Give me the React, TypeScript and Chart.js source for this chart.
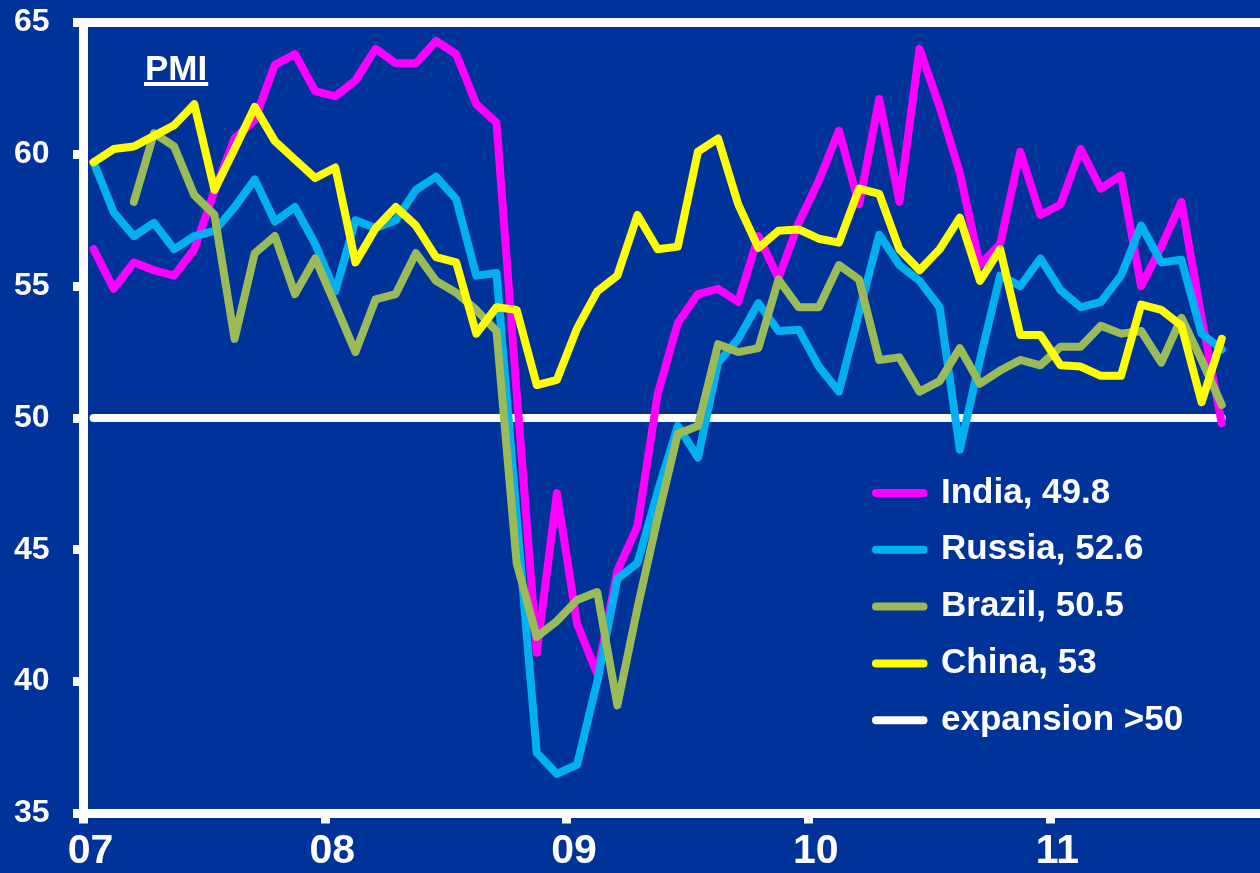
import React, { useEffect, useRef } from 'react';
import { Chart, registerables } from 'chart.js';

Chart.register(...registerables);

const FONT = '"Liberation Sans", Arial, Helvetica, sans-serif';
const BG = '#003399';

// Categories: monthly, Jan 2007 – Sep 2011
const monthNames = ['Jan', 'Feb', 'Mar', 'Apr', 'May', 'Jun', 'Jul', 'Aug', 'Sep', 'Oct', 'Nov', 'Dec'];
const yearLabels = ['07', '08', '09', '10', '11'];
const months: string[] = yearLabels.flatMap((y) => monthNames.map((m) => `${m} ${y}`)).slice(0, 57);

// Series values (PMI)
const india = [
  56.4, 54.9, 55.9, 55.6, 55.4, 56.4, 58.6, 60.6, 61.3, 63.4, 63.8, 62.4,
  62.2, 62.8, 64.0, 63.45, 63.45, 64.3, 63.8, 61.9, 61.2, 51.0, 41.1, 47.15,
  42.2, 40.3, 44.2, 45.9, 50.9, 53.6, 54.7, 54.9, 54.4, 56.9, 55.3, 57.4,
  59.0, 60.9, 58.1, 62.1, 58.2, 64.0, 61.8, 59.3, 55.8, 56.6, 60.1, 57.7,
  58.1, 60.2, 58.7, 59.2, 55.0, 56.5, 58.2, 53.8, 49.8,
];
const russia = [
  59.7, 57.8, 56.9, 57.4, 56.4, 56.9, 57.1, 58.0, 59.05, 57.45, 58.0, 56.6,
  54.8, 57.5, 57.2, 57.5, 58.65, 59.15, 58.3, 55.4, 55.5, 46.3, 37.3, 36.5,
  36.85, 40.0, 43.9, 44.5, 47.2, 49.7, 48.5, 52.1, 53.0, 54.35, 53.3, 53.35,
  51.95, 51.0, 54.0, 56.95, 55.8, 55.2, 54.2, 48.8, 52.2, 55.4, 55.0, 56.05,
  54.85, 54.2, 54.4, 55.4, 57.3, 55.9, 56.0, 53.2, 52.6,
];
const brazil = [
  null, null, 58.2, 60.8, 60.3, 58.45, 57.7, 53.0, 56.25, 56.9, 54.7, 56.05,
  54.3, 52.5, 54.5, 54.7, 56.25, 55.2, 54.75, 54.1, 53.3, 44.5, 41.7, 42.3,
  43.1, 43.4, 39.1, 42.8, 46.2, 49.4, 49.7, 52.8, 52.5, 52.65, 55.25, 54.2,
  54.2, 55.8, 55.25, 52.2, 52.3, 51.0, 51.4, 52.65, 51.3, 51.8, 52.2, 52.0,
  52.7, 52.7, 53.5, 53.2, 53.3, 52.1, 53.8, 52.2, 50.5,
];
const china = [
  59.7, 60.2, 60.3, 60.7, 61.1, 61.9, 58.65, 60.2, 61.8, 60.5, 59.8, 59.1,
  59.5, 55.9, 57.2, 58.0, 57.3, 56.1, 55.9, 53.2, 54.2, 54.1, 51.25, 51.45,
  53.4, 54.8, 55.4, 57.7, 56.4, 56.5, 60.1, 60.6, 58.1, 56.45, 57.1, 57.15,
  56.8, 56.65, 58.7, 58.5, 56.4, 55.6, 56.4, 57.6, 55.2, 56.4, 53.15, 53.15,
  52.0, 51.95, 51.6, 51.6, 54.3, 54.1, 53.5, 50.6, 53.0,
];
const expansionLevel = 50;

const seriesLabels = ['India, 49.8', 'Russia, 52.6', 'Brazil, 50.5', 'China, 53', 'expansion >50'];
const seriesColors = ['#FF00FF', '#00B0F0', '#9BBB59', '#FFFF00', '#FFFFFF'];
const drawOrder = [4, 3, 2, 1, 5];

const yTickMin = 35;
const yTickMax = 65;
const yTickStep = 5;

// year boundaries on the monthly index axis
const yearTickValues = yearLabels.map((_, k) => k * 12 - 0.5);
const X_MIN = -0.5;
const X_MAX = 57.9;

const toPoints = (vals: (number | null)[]) => vals.map((v, i) => ({ x: i, y: v }));

const overlayPlugin = {
  id: 'overlayPlugin',
  beforeDraw(chart: any) {
    const lg = chart.legend;
    if (lg) {
      lg.left = 854.2;
      lg.top = 453.7;
      lg.right = 1260;
      lg.bottom = 873;
      lg.width = lg.right - lg.left;
      lg.height = lg.bottom - lg.top;
    }
  },
  afterDraw(chart: any) {
    const ctx = chart.ctx as CanvasRenderingContext2D;
    ctx.save();
    ctx.font = `bold 35px ${FONT}`;
    ctx.fillStyle = '#FFFFFF';
    ctx.textBaseline = 'alphabetic';
    ctx.textAlign = 'left';
    ctx.fillText('PMI', 145, 80);
    const w = ctx.measureText('PMI').width;
    ctx.fillRect(144, 82, w + 2, 4);
    ctx.restore();
  },
};

export default function App() {
  const canvasRef = useRef<HTMLCanvasElement | null>(null);

  useEffect(() => {
    const canvas = canvasRef.current;
    if (!canvas) return;
    const seriesValues = [india, russia, brazil, china, months.map(() => expansionLevel)];
    const datasets = seriesValues.map((vals, idx) => ({
      label: seriesLabels[idx],
      data: toPoints(vals),
      borderColor: seriesColors[idx],
      backgroundColor: seriesColors[idx],
      borderWidth: 8,
      borderCapStyle: 'round' as const,
      borderJoinStyle: 'round' as const,
      pointRadius: 0,
      pointHoverRadius: 0,
      tension: 0,
      fill: false,
      spanGaps: false,
      order: drawOrder[idx],
    }));

    const chart = new Chart(canvas, {
      type: 'line',
      data: { datasets },
      options: {
        responsive: false,
        animation: false,
        devicePixelRatio: 1,
        layout: { padding: { top: 22.5, left: 0, right: 0, bottom: 0 } },
        scales: {
          x: {
            type: 'linear',
            min: X_MIN,
            max: X_MAX,
            bounds: 'data',
            afterBuildTicks: (s: any) => {
              s.ticks = yearTickValues.map((v) => ({ value: v }));
            },
            afterFit: (s: any) => {
              s.height = 59.5;
              s.paddingLeft = 0;
              s.paddingRight = 0;
              s.paddingTop = 0;
              s.paddingBottom = 0;
            },
            ticks: {
              color: '#FFFFFF',
              font: { family: FONT, size: 41, weight: 'bold', lineHeight: 1 },
              padding: 8,
              labelOffset: 7,
              maxRotation: 0,
              minRotation: 0,
              autoSkip: false,
              callback: (_v: any, i: number) => yearLabels[i],
            },
            grid: {
              display: true,
              drawOnChartArea: false,
              drawTicks: true,
              tickLength: 10,
              lineWidth: 9,
              color: '#FFFFFF',
              tickColor: '#FFFFFF',
            },
            border: { display: true, color: '#FFFFFF', width: 9 },
          },
          y: {
            min: yTickMin,
            max: yTickMax,
            z: 1,
            afterFit: (s: any) => {
              s.width = 83.5;
              s.paddingTop = 0;
              s.paddingBottom = 0;
              s.paddingLeft = 0;
              s.paddingRight = 0;
            },
            ticks: {
              stepSize: yTickStep,
              color: '#FFFFFF',
              font: { family: FONT, size: 32, weight: 'bold', lineHeight: 1 },
              padding: 23.5,
            },
            grid: {
              display: true,
              drawOnChartArea: true,
              drawTicks: true,
              tickLength: 10.5,
              lineWidth: 9,
              color: (c: any) => (c.tick && c.tick.value === yTickMax ? '#FFFFFF' : 'rgba(0,0,0,0)'),
              tickColor: '#FFFFFF',
            },
            border: { display: true, color: '#FFFFFF', width: 9 },
          },
        },
        plugins: {
          tooltip: { enabled: false },
          title: { display: false },
          legend: {
            display: true,
            position: 'chartArea',
            align: 'start',
            labels: {
              color: '#FFFFFF',
              font: { family: FONT, size: 35, weight: 'bold', lineHeight: 1 },
              usePointStyle: true,
              pointStyle: 'line',
              pointStyleWidth: 47.5,
              boxWidth: 47.5,
              boxHeight: 8,
              padding: 21.8,
              sort: (a: any, b: any) => a.datasetIndex - b.datasetIndex,
              generateLabels: (ch: any) => {
                const base = (Chart.defaults as any).plugins.legend.labels.generateLabels(ch);
                return base.map((it: any) => ({
                  ...it,
                  lineWidth: 8,
                  lineCap: 'round',
                  strokeStyle: seriesColors[it.datasetIndex],
                  fillStyle: seriesColors[it.datasetIndex],
                  pointStyle: 'line',
                  fontColor: '#FFFFFF',
                }));
              },
            },
          },
        },
      } as any,
      plugins: [overlayPlugin],
    });
    return () => chart.destroy();
  }, []);

  return (
    <div
      style={{
        position: 'absolute',
        left: 0,
        top: 0,
        width: 1260,
        height: 873,
        background: BG,
        overflow: 'hidden',
      }}
    >
      <canvas ref={canvasRef} width={1260} height={873} style={{ width: 1260, height: 873, display: 'block' }} />
    </div>
  );
}
